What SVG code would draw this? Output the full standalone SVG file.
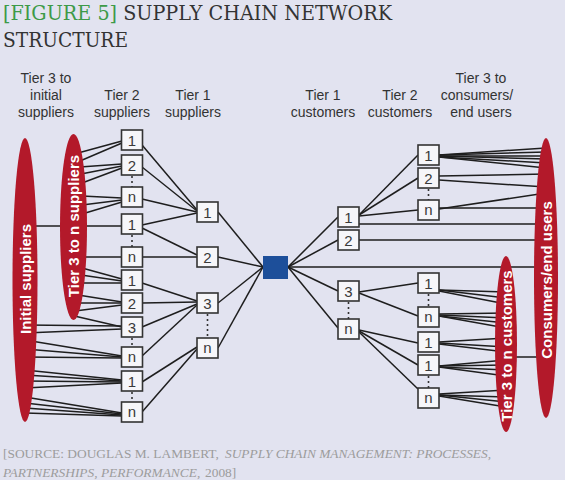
<svg xmlns="http://www.w3.org/2000/svg" width="565" height="480" viewBox="0 0 565 480">
<style>
.bg{fill:#e2e3f0}
.ttl{font-family:"DejaVu Serif","Liberation Serif",serif;font-size:20px;fill:#333}
.grn{fill:#3d9a48}
.src{font-family:"Liberation Serif","Times New Roman",serif;font-size:13.4px;fill:#9c9c9c}
.it{font-style:italic}
.hd{font-family:"Liberation Sans",Arial,sans-serif;font-size:14px;fill:#333;text-anchor:middle}
.ell{fill:#b3192a}
.et{font-family:"Liberation Sans",Arial,sans-serif;font-size:15px;font-weight:bold;fill:#fff;text-anchor:middle}
.box rect{fill:#f6f6f9;stroke:#333;stroke-width:1.6}
.box text{font-family:"Liberation Sans",Arial,sans-serif;font-size:15px;fill:#3a3a3a;text-anchor:middle}
.ln line{stroke:#1e1e1e;stroke-width:1.5}
.dt line{stroke:#333;stroke-width:1.6;stroke-dasharray:2 3}
</style>
<rect class="bg" x="0" y="0" width="565" height="480"/>
<g id="title">
<text class="ttl" x="3" y="20" textLength="389" lengthAdjust="spacingAndGlyphs"><tspan class="grn">[FIGURE 5]</tspan> SUPPLY CHAIN NETWORK</text>
<text class="ttl" x="3" y="47" textLength="125" lengthAdjust="spacingAndGlyphs">STRUCTURE</text>
</g>
<g id="headers">
<text class="hd" x="46" y="83">Tier 3 to</text>
<text class="hd" x="46" y="100">initial</text>
<text class="hd" x="46" y="117">suppliers</text>
<text class="hd" x="122" y="100">Tier 2</text>
<text class="hd" x="122" y="117">suppliers</text>
<text class="hd" x="193" y="100">Tier 1</text>
<text class="hd" x="193" y="117">suppliers</text>
<text class="hd" x="323" y="100">Tier 1</text>
<text class="hd" x="323" y="117">customers</text>
<text class="hd" x="400" y="100">Tier 2</text>
<text class="hd" x="400" y="117">customers</text>
<text class="hd" x="481" y="83">Tier 3 to</text>
<text class="hd" x="477" y="100">consumers/</text>
<text class="hd" x="481" y="117">end users</text>
</g>
<g id="connectors">
<g class="ln">
<line x1="78" y1="153" x2="122" y2="141"/>
<line x1="80" y1="161" x2="122" y2="143"/>
<line x1="80" y1="167" x2="122" y2="164"/>
<line x1="81" y1="174" x2="122" y2="166"/>
<line x1="82" y1="183" x2="122" y2="168"/>
<line x1="82" y1="196" x2="122" y2="198"/>
<line x1="82" y1="205" x2="122" y2="200"/>
<line x1="82" y1="214" x2="122" y2="202"/>
<line x1="25" y1="226" x2="122" y2="226"/>
<line x1="82" y1="257" x2="122" y2="257"/>
<line x1="82" y1="268" x2="122" y2="279"/>
<line x1="81" y1="275" x2="122" y2="281"/>
<line x1="80" y1="283" x2="122" y2="283"/>
<line x1="78" y1="295" x2="122" y2="302"/>
<line x1="77" y1="303" x2="122" y2="303"/>
<line x1="75" y1="311" x2="122" y2="305"/>
<line x1="70" y1="315" x2="122" y2="327"/>
<line x1="25" y1="325" x2="122" y2="326"/>
<line x1="25" y1="333" x2="122" y2="329"/>
<line x1="25" y1="340" x2="122" y2="356"/>
<line x1="25" y1="349" x2="122" y2="357"/>
<line x1="25" y1="357" x2="122" y2="358"/>
<line x1="25" y1="370" x2="122" y2="380"/>
<line x1="25" y1="375" x2="122" y2="381"/>
<line x1="25" y1="381" x2="122" y2="382"/>
<line x1="25" y1="388" x2="122" y2="383"/>
<line x1="25" y1="397" x2="122" y2="413"/>
<line x1="25" y1="403" x2="122" y2="414"/>
<line x1="25" y1="408" x2="122" y2="415"/>
<line x1="25" y1="413" x2="122" y2="416"/>
<line x1="142" y1="145" x2="197" y2="210"/>
<line x1="142" y1="167" x2="197" y2="211"/>
<line x1="142" y1="199" x2="197" y2="212"/>
<line x1="142" y1="225" x2="197" y2="213"/>
<line x1="142" y1="228" x2="197" y2="255"/>
<line x1="142" y1="257" x2="197" y2="257"/>
<line x1="142" y1="283" x2="197" y2="301"/>
<line x1="142" y1="303" x2="197" y2="302"/>
<line x1="142" y1="327" x2="197" y2="304"/>
<line x1="142" y1="356" x2="197" y2="305"/>
<line x1="142" y1="382" x2="197" y2="347"/>
<line x1="142" y1="412" x2="197" y2="349"/>
<line x1="218" y1="212" x2="263" y2="267"/>
<line x1="218" y1="257" x2="263" y2="267"/>
<line x1="218" y1="303" x2="263" y2="267"/>
<line x1="218" y1="348" x2="263" y2="267"/>
<line x1="288" y1="267" x2="338" y2="217"/>
<line x1="288" y1="267" x2="338" y2="240"/>
<line x1="288" y1="267" x2="338" y2="291"/>
<line x1="288" y1="267" x2="338" y2="328"/>
<line x1="288" y1="267" x2="546" y2="267"/>
<line x1="359" y1="215" x2="418" y2="155"/>
<line x1="359" y1="215" x2="418" y2="178"/>
<line x1="359" y1="216" x2="418" y2="210"/>
<line x1="359" y1="224" x2="546" y2="224"/>
<line x1="359" y1="240" x2="546" y2="240"/>
<line x1="359" y1="292" x2="418" y2="283"/>
<line x1="359" y1="293" x2="418" y2="316"/>
<line x1="359" y1="330" x2="418" y2="343"/>
<line x1="359" y1="331" x2="418" y2="365"/>
<line x1="359" y1="332" x2="418" y2="389"/>
<line x1="439" y1="155" x2="546" y2="148"/>
<line x1="439" y1="155" x2="546" y2="152"/>
<line x1="439" y1="156" x2="546" y2="156"/>
<line x1="439" y1="156" x2="546" y2="159"/>
<line x1="439" y1="157" x2="546" y2="163"/>
<line x1="439" y1="157" x2="546" y2="168"/>
<line x1="439" y1="176" x2="546" y2="174"/>
<line x1="439" y1="180" x2="546" y2="187"/>
<line x1="439" y1="209" x2="546" y2="193"/>
<line x1="439" y1="208" x2="546" y2="208"/>
<line x1="439" y1="290" x2="506" y2="292"/>
<line x1="439" y1="290" x2="506" y2="298"/>
<line x1="439" y1="291" x2="506" y2="304"/>
<line x1="439" y1="314" x2="506" y2="313"/>
<line x1="439" y1="315" x2="506" y2="318"/>
<line x1="439" y1="316" x2="506" y2="323"/>
<line x1="439" y1="316" x2="506" y2="328"/>
<line x1="439" y1="342" x2="506" y2="338"/>
<line x1="439" y1="343" x2="506" y2="347"/>
<line x1="439" y1="344" x2="506" y2="352"/>
<line x1="439" y1="366" x2="506" y2="360"/>
<line x1="439" y1="366" x2="506" y2="365"/>
<line x1="439" y1="367" x2="506" y2="370"/>
<line x1="439" y1="367" x2="506" y2="376"/>
<line x1="439" y1="394" x2="506" y2="390"/>
<line x1="439" y1="395" x2="506" y2="397"/>
<line x1="439" y1="395" x2="506" y2="402"/>
<line x1="439" y1="396" x2="506" y2="407"/>
<line x1="506" y1="357" x2="546" y2="357"/>
</g>
<g class="dt">
<line x1="132" y1="176" x2="132" y2="187"/>
<line x1="132" y1="235" x2="132" y2="247"/>
<line x1="132" y1="338" x2="132" y2="347"/>
<line x1="132" y1="392" x2="132" y2="402"/>
<line x1="207.5" y1="314" x2="207.5" y2="338"/>
<line x1="348.5" y1="302" x2="348.5" y2="319"/>
<line x1="428.5" y1="189" x2="428.5" y2="200"/>
<line x1="428.5" y1="294" x2="428.5" y2="307"/>
<line x1="428.5" y1="376" x2="428.5" y2="388"/>
</g>
</g>
<g id="initial-suppliers">
<ellipse class="ell" cx="25" cy="280" rx="12.5" ry="142"/>
<text class="et" transform="translate(30.5,279) rotate(-90)">Initial suppliers</text>
</g>
<g id="tier3-suppliers">
<ellipse class="ell" cx="73.5" cy="227" rx="13.5" ry="93"/>
<text class="et" transform="translate(79,226) rotate(-90)">Tier 3 to n suppliers</text>
</g>
<g id="consumers">
<ellipse class="ell" cx="546" cy="278" rx="12" ry="140"/>
<text class="et" transform="translate(551.5,280) rotate(-90)">Consumers/end users</text>
</g>
<g id="tier3-customers">
<ellipse class="ell" cx="506" cy="344" rx="11" ry="88"/>
<text class="et" transform="translate(511.5,346) rotate(-90)">Tier 3 to n customers</text>
</g>
<g id="focal">
<rect x="263" y="256" width="25" height="23" fill="#1d4f9a"/>
</g>
<g id="t2s-1" class="box"><rect x="121.5" y="130" width="21" height="20"/><text x="132" y="146">1</text></g>
<g id="t2s-2" class="box"><rect x="121.5" y="155" width="21" height="20"/><text x="132" y="171">2</text></g>
<g id="t2s-n" class="box"><rect x="121.5" y="187" width="21" height="20"/><text x="132" y="202">n</text></g>
<g id="t2s-1b" class="box"><rect x="121.5" y="214" width="21" height="20"/><text x="132" y="230">1</text></g>
<g id="t2s-nb" class="box"><rect x="121.5" y="247" width="21" height="20"/><text x="132" y="262">n</text></g>
<g id="t2s-1c" class="box"><rect x="121.5" y="270" width="21" height="20"/><text x="132" y="286">1</text></g>
<g id="t2s-2c" class="box"><rect x="121.5" y="293" width="21" height="20"/><text x="132" y="309">2</text></g>
<g id="t2s-3c" class="box"><rect x="121.5" y="317" width="21" height="20"/><text x="132" y="333">3</text></g>
<g id="t2s-nc" class="box"><rect x="121.5" y="347" width="21" height="20"/><text x="132" y="362">n</text></g>
<g id="t2s-1d" class="box"><rect x="121.5" y="371" width="21" height="20"/><text x="132" y="387">1</text></g>
<g id="t2s-nd" class="box"><rect x="121.5" y="402" width="21" height="20"/><text x="132" y="417">n</text></g>
<g id="t1s-1" class="box"><rect x="197" y="202" width="21" height="20"/><text x="207.5" y="218">1</text></g>
<g id="t1s-2" class="box"><rect x="197" y="247" width="21" height="20"/><text x="207.5" y="263">2</text></g>
<g id="t1s-3" class="box"><rect x="197" y="293" width="21" height="20"/><text x="207.5" y="309">3</text></g>
<g id="t1s-n" class="box"><rect x="197" y="338" width="21" height="20"/><text x="207.5" y="353">n</text></g>
<g id="t1c-1" class="box"><rect x="338" y="207" width="21" height="20"/><text x="348.5" y="223">1</text></g>
<g id="t1c-2" class="box"><rect x="338" y="230" width="21" height="20"/><text x="348.5" y="246">2</text></g>
<g id="t1c-3" class="box"><rect x="338" y="281" width="21" height="20"/><text x="348.5" y="297">3</text></g>
<g id="t1c-n" class="box"><rect x="338" y="319" width="21" height="20"/><text x="348.5" y="334">n</text></g>
<g id="t2c-1" class="box"><rect x="418" y="145" width="21" height="20"/><text x="428.5" y="161">1</text></g>
<g id="t2c-2" class="box"><rect x="418" y="168" width="21" height="20"/><text x="428.5" y="184">2</text></g>
<g id="t2c-n" class="box"><rect x="418" y="200" width="21" height="20"/><text x="428.5" y="215">n</text></g>
<g id="t2c-1b" class="box"><rect x="418" y="273" width="21" height="20"/><text x="428.5" y="289">1</text></g>
<g id="t2c-nb" class="box"><rect x="418" y="307" width="21" height="20"/><text x="428.5" y="322">n</text></g>
<g id="t2c-1c" class="box"><rect x="418" y="332" width="21" height="20"/><text x="428.5" y="348">1</text></g>
<g id="t2c-1d" class="box"><rect x="418" y="355" width="21" height="20"/><text x="428.5" y="371">1</text></g>
<g id="t2c-nd" class="box"><rect x="418" y="388" width="21" height="20"/><text x="428.5" y="403">n</text></g>
<g id="source">
<text class="src" x="3" y="458">[SOURCE: DOUGLAS M. LAMBERT,</text>
<text class="src it" x="225" y="458">SUPPLY CHAIN MANAGEMENT: PROCESSES,</text>
<text class="src it" x="3" y="477">PARTNERSHIPS, PERFORMANCE,</text>
<text class="src" x="205" y="477">2008]</text>
</g>
</svg>
